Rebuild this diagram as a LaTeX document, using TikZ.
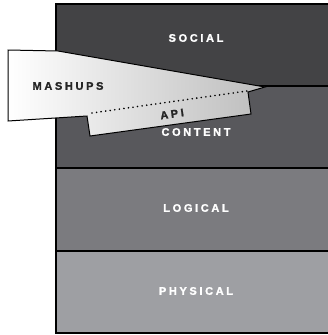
\documentclass[tikz,border=0pt]{standalone}
\usepackage{fontspec}
\newfontfamily\layerfont[LetterSpace=24, RawFeature={embolden=1.5}]{Liberation Sans Bold}

\definecolor{socialgray}{HTML}{434345}
\definecolor{contentgray}{HTML}{58585C}
\definecolor{logicalgray}{HTML}{7B7B7F}
\definecolor{physicalgray}{HTML}{9E9FA3}

\tikzset{
	layerline/.style={draw=black, line width=1.6pt},
	layertext/.style={text=white, font=\layerfont\fontsize{11}{13}\selectfont},
	mashuptext/.style={text=black!85, font=\layerfont\fontsize{11}{13}\selectfont},
	wedge/.style={draw=black, line width=1pt, left color=white, right color=black!26},
	apiline/.style={line width=1.8pt, line cap=round, dash pattern=on 0pt off 4.6pt}
}

\begin{document}
\begin{tikzpicture}[x=1pt, y=-1pt]

	\useasboundingbox (0,0) rectangle (328,335);

	% the four layers
	\fill[socialgray] (56,4) rectangle (334,86);
	\fill[contentgray] (56,86) rectangle (334,168);
	\fill[logicalgray] (56,168) rectangle (334,251);
	\fill[physicalgray] (56,251) rectangle (334,333);

	\draw[layerline] (334,4) -- (56,4) -- (56,333) -- (334,333);
	\draw[layerline] (56,86) -- (334,86);
	\draw[layerline] (56,168) -- (334,168);
	\draw[layerline] (56,251) -- (334,251);

	\node[layertext] (social) at (196,38) {SOCIAL};
	\node[layertext] (content) at (196,132) {CONTENT};
	\node[layertext] (logical) at (196,208) {LOGICAL};
	\node[layertext] (physical) at (196,291) {PHYSICAL};

	% the mashup wedge
	\draw[wedge] (8,50) -- (58,51) -- (265,87) -- (248,92) -- (251,114)
		-- (90,136) -- (87,116) -- (8,121) -- cycle;

	\coordinate (apileft) at (92,113);
	\coordinate (apiright) at (247,91);
	\draw[apiline] (apileft) -- (apiright);

	\node[mashuptext] (mashups) at (68,86) {MASHUPS};
	\node[mashuptext, rotate=8] (api) at (172,114) {API};

\end{tikzpicture}
\end{document}
